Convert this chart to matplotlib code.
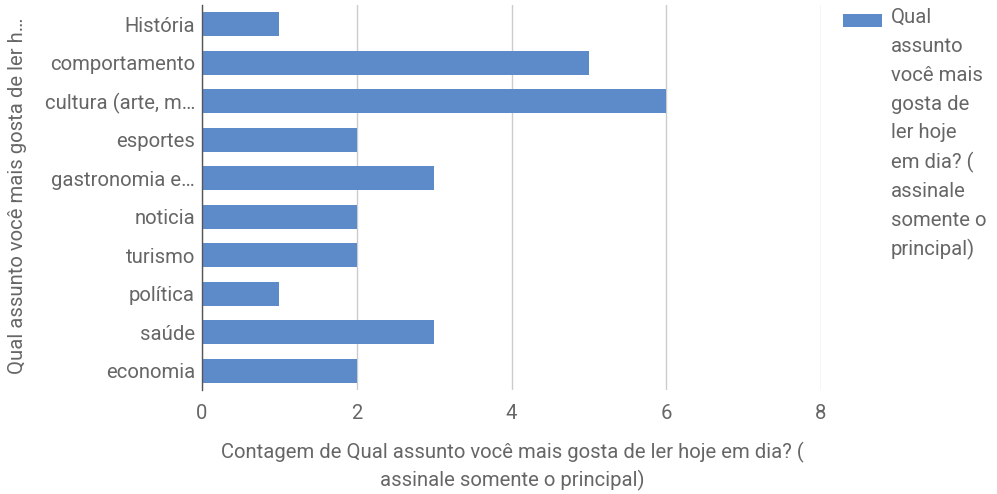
import matplotlib
matplotlib.use("Agg")
import matplotlib.pyplot as plt
from matplotlib.patches import Rectangle

categories = ["História", "comportamento", "cultura (arte, m…", "esportes",
              "gastronomia e…", "noticia", "turismo", "política", "saúde", "economia"]
values = [1, 5, 6, 2, 3, 2, 2, 1, 3, 2]
xticks = [0, 2, 4, 6, 8]
series_name = "Qual assunto você mais gosta de ler hoje em dia? ( assinale somente o principal)"
legend_lines = ["Qual", "assunto", "você mais", "gosta de", "ler hoje", "em dia? (",
                "assinale", "somente o", "principal)"]

plt.rcParams['font.family'] = ['Roboto', 'DejaVu Sans']
W, H = 997, 494
fig = plt.figure(figsize=(W/100, H/100), dpi=100)
ax = fig.add_axes([202/W, 1-390/H, (821-202)/W, (390-5)/H])

color = '#5d8bc9'
txt = '#666666'
fs = 14.6
y = list(range(len(categories)))
ax.barh(y, values, height=0.62, color=color, zorder=3)
ax.set_ylim(len(categories)-0.5, -0.5)
ax.set_xlim(0, 8)
ax.set_xticks(xticks)
ax.set_xticklabels([str(t) for t in xticks])
ax.set_yticks(y)
ax.set_yticklabels(categories)
ax.tick_params(axis='y', length=0, pad=5, labelsize=fs, labelcolor=txt)
ax.tick_params(axis='x', length=0, pad=10, labelsize=fs, labelcolor=txt)
ax.grid(axis='x', color='#cccccc', linewidth=1, zorder=0)
for s in ['top', 'right', 'bottom']:
    ax.spines[s].set_visible(False)
ax.spines['left'].set_color('#555555')
ax.spines['left'].set_linewidth(1)
ax.spines['left'].set_zorder(4)

fig.text(512/W, 1-452/H, "Contagem de Qual assunto você mais gosta de ler hoje em dia? (",
         ha='center', va='center', fontsize=fs, color=txt)
fig.text(512/W, 1-480/H, "assinale somente o principal)",
         ha='center', va='center', fontsize=fs, color=txt)
fig.text(18/W, 1-196/H, "Qual assunto você mais gosta de ler h…", rotation=90,
         ha='center', va='center', fontsize=fs, color=txt)

fig.patches.append(Rectangle((843/W, 1-27/H), 39/W, 13/H, transform=fig.transFigure,
                             facecolor=color, edgecolor='none'))
for i, line in enumerate(legend_lines):
    fig.text(891/W, 1-(17+29*i)/H, line, ha='left', va='center', fontsize=fs, color=txt)

fig.savefig("out.png", dpi=100)
